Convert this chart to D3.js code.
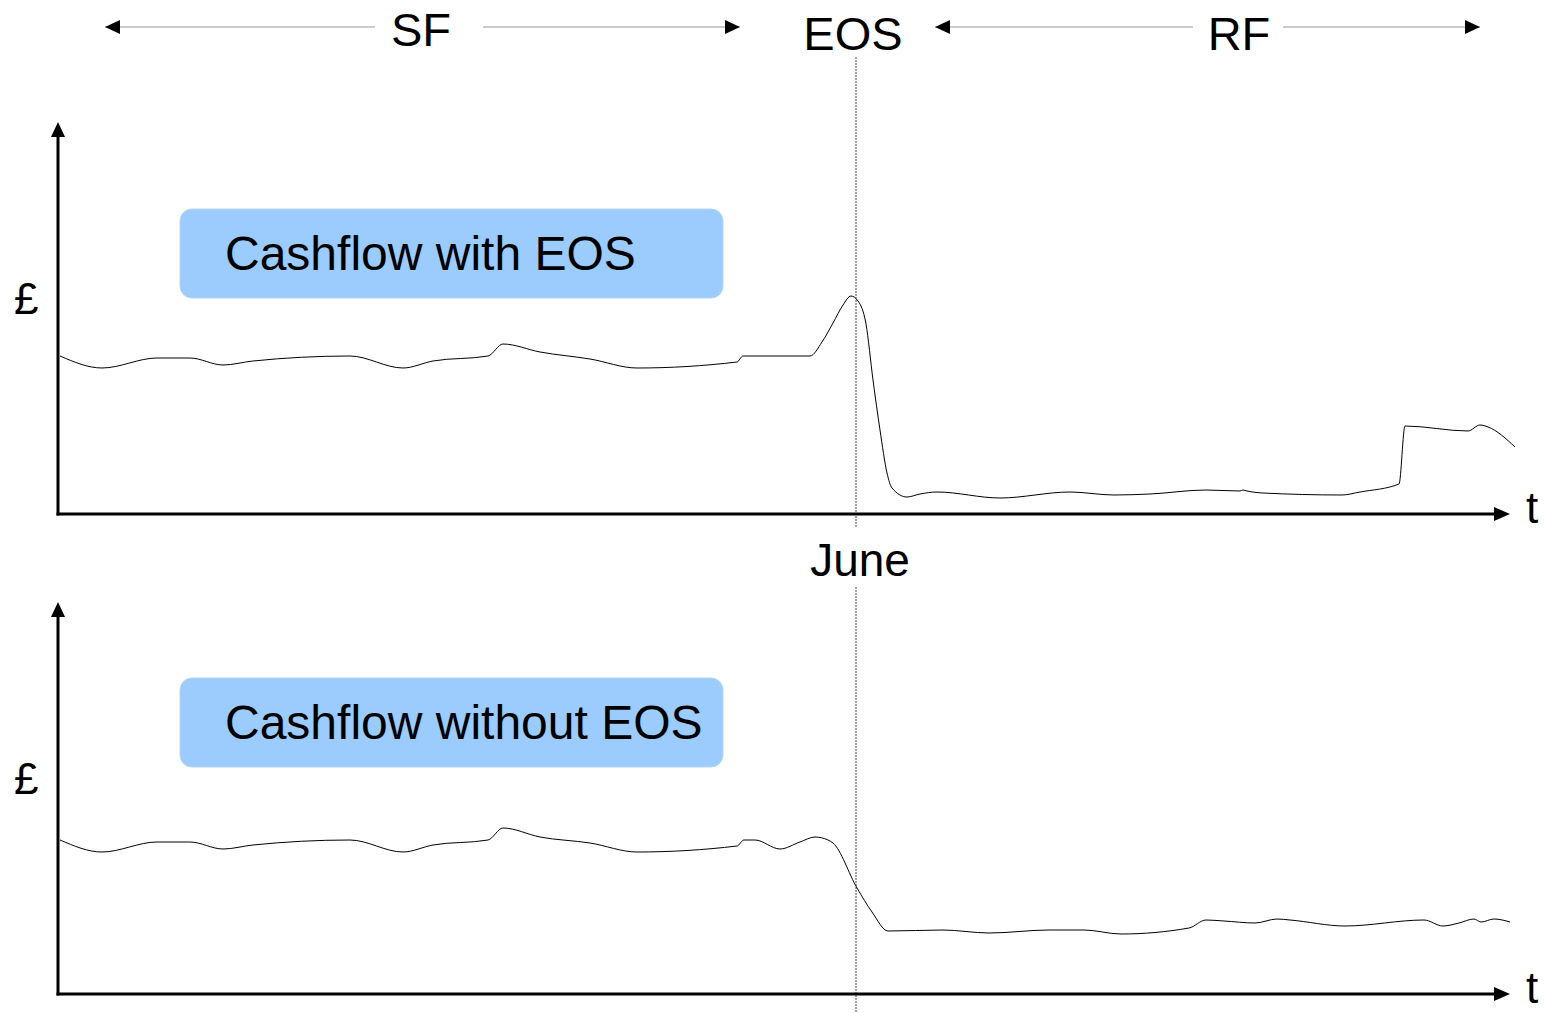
<!DOCTYPE html>
<html>
<head>
<meta charset="utf-8">
<script src="https://cdn.jsdelivr.net/npm/d3@7"></script>
<style>
  body { margin: 0; background: #fff; }
  svg text { font-family: "Liberation Sans", Arial, sans-serif; fill: #000; }
</style>
</head>
<body>
<svg id="chart" width="1544" height="1013"></svg>
<script>
// time offsets / cashflow levels
var tWith = [2, 44, 99, 132, 165, 195, 292, 345, 375, 430, 445, 482, 532, 579, 679, 685, 752, 764, 775, 785, 793, 800, 808, 815, 822, 829, 834, 849, 862, 879, 942, 1012, 1056, 1092, 1148, 1182, 1185, 1189, 1205, 1284, 1302, 1341, 1347, 1410, 1422, 1430, 1457];
var vWith = [158, 146, 156, 156, 149, 153, 158, 146, 153, 158, 170, 162, 155, 146, 152, 158, 158, 172, 191, 209, 218, 213, 190, 134, 84, 41, 26, 17, 20, 22, 16, 22, 19, 20, 24, 23, 24, 23, 21, 19, 22, 30, 88, 83, 89, 87, 67];

var tWithout = [2, 44, 99, 132, 165, 195, 292, 345, 375, 430, 445, 482, 532, 579, 679, 686, 697, 722, 742, 757, 770, 775, 799, 814, 830, 885, 931, 991, 1026, 1063, 1131, 1148, 1166, 1197, 1219, 1232, 1287, 1366, 1385, 1401, 1416, 1423, 1436, 1452];
var vWithout = [154, 142, 152, 152, 145, 149, 154, 142, 149, 154, 166, 157, 151, 142, 148, 154, 154, 145, 152, 157, 154, 151, 106, 82, 63, 64, 61, 64, 64, 60, 66, 74, 73, 71, 75, 74, 68, 74, 68, 71, 75, 72, 75, 72];

var topLabels = ["SF", "EOS", "RF"];
var panelLabels = ["Cashflow with EOS", "Cashflow without EOS"];
var eventLabel = "June";
var eosTime = 798;

var svg = d3.select("#chart");

var x = d3.scaleLinear().domain([0, 1452]).range([58, 1510]);
var yTop = d3.scaleLinear().domain([0, 390]).range([514, 124]);
var yBot = d3.scaleLinear().domain([0, 390]).range([994, 604]);

function arrowHead(g, tipX, tipY, dir, len, half) {
  var pts;
  if (dir == "up") pts = [[tipX, tipY], [tipX - half, tipY + len], [tipX + half, tipY + len]];
  else if (dir == "right") pts = [[tipX, tipY], [tipX - len, tipY - half], [tipX - len, tipY + half]];
  else pts = [[tipX, tipY], [tipX + len, tipY - half], [tipX + len, tipY + half]];
  g.append("path").attr("d", "M" + pts.join("L") + "Z").attr("fill", "#000");
}

// dotted EOS line
svg.append("line")
  .attr("x1", x(eosTime)).attr("x2", x(eosTime))
  .attr("y1", 57).attr("y2", 527)
  .attr("stroke", "#444").attr("stroke-width", 1).attr("stroke-dasharray", "2,1");
svg.append("line")
  .attr("x1", x(eosTime)).attr("x2", x(eosTime))
  .attr("y1", 587).attr("y2", 1013)
  .attr("stroke", "#444").attr("stroke-width", 1).attr("stroke-dasharray", "2,1");

// top period arrows
var header = svg.append("g");
[[105, 375], [483, 740], [935, 1193], [1283, 1480]].forEach(function(s) {
  header.append("line").attr("x1", s[0]).attr("x2", s[1]).attr("y1", 27).attr("y2", 27)
    .attr("stroke", "#999").attr("stroke-width", 1);
});
arrowHead(header, 105, 27, "left", 15, 7);
arrowHead(header, 740, 27, "right", 15, 7);
arrowHead(header, 935, 27, "left", 15, 7);
arrowHead(header, 1480, 27, "right", 15, 7);

header.append("text").attr("x", 421).attr("y", 46).attr("text-anchor", "middle")
  .style("font-size", "47px").text(topLabels[0]);
header.append("text").attr("x", 853).attr("y", 50).attr("text-anchor", "middle")
  .style("font-size", "47px").text(topLabels[1]);
header.append("text").attr("x", 1239).attr("y", 50).attr("text-anchor", "middle")
  .style("font-size", "47px").text(topLabels[2]);

svg.append("text").attr("x", 860).attr("y", 576).attr("text-anchor", "middle")
  .style("font-size", "46px").text(eventLabel);

function drawPanel(y, ts, vs, label, boxY) {
  var g = svg.append("g");

  g.append("rect").attr("x", 180).attr("y", boxY).attr("width", 543).attr("height", 89)
    .attr("rx", 12).attr("fill", "#9ccbfd").attr("stroke", "#b3d6fb").attr("stroke-width", 1);
  g.append("text").attr("x", 225).attr("y", boxY + 61)
    .style("font-size", "48px").text(label);

  // axes
  g.append("line").attr("x1", x(0)).attr("x2", x(0)).attr("y1", y(0) + 1.5).attr("y2", y(385))
    .attr("stroke", "#000").attr("stroke-width", 3);
  arrowHead(g, x(0), y(392), "up", 15, 7);
  g.append("line").attr("x1", x(0) - 1.5).attr("x2", x(1438)).attr("y1", y(0)).attr("y2", y(0))
    .attr("stroke", "#000").attr("stroke-width", 3);
  arrowHead(g, x(1452), y(0), "right", 16, 7);

  g.append("text").attr("x", 14).attr("y", y(200)).style("font-size", "44px").text("£");
  g.append("text").attr("x", 1526).attr("y", y(0) + 9).style("font-size", "44px").text("t");

  var data = ts.map(function(t, i) { return { t: t, v: vs[i] }; });
  g.append("path")
    .datum(data)
    .attr("fill", "none")
    .attr("stroke", "#000")
    .attr("stroke-width", 1)
    .attr("d", d3.line()
      .curve(d3.curveMonotoneX)
      .x(function(d) { return x(d.t); })
      .y(function(d) { return y(d.v); }));
}

drawPanel(yTop, tWith, vWith, panelLabels[0], 209);
drawPanel(yBot, tWithout, vWithout, panelLabels[1], 678);
</script>
</body>
</html>
